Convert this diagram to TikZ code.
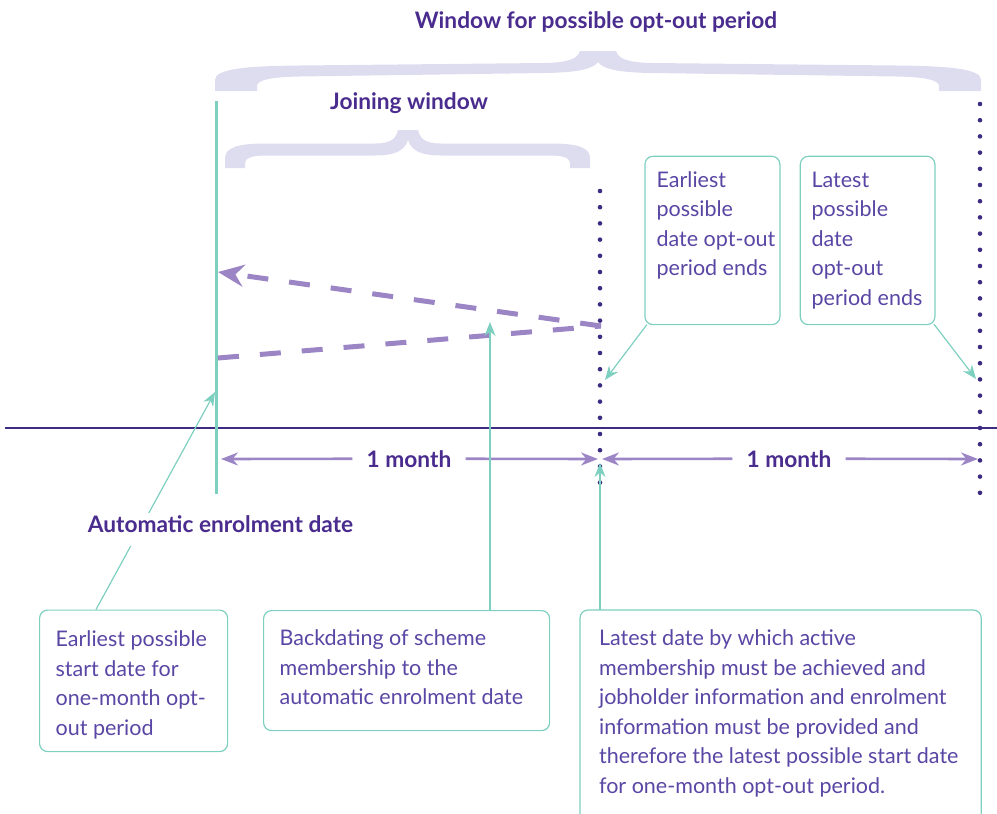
\documentclass[tikz,border=0pt]{standalone}
\usepackage{fontspec}
\setmainfont{Lato}
\usetikzlibrary{arrows.meta,calc}
\definecolor{tealc}{HTML}{7DD0BF}
\definecolor{purp}{HTML}{4A2C8E}
\definecolor{bodyp}{HTML}{5A46A4}
\definecolor{lav}{HTML}{DEDCEF}
\definecolor{dashp}{HTML}{9B85C5}
\definecolor{axisp}{HTML}{3E2C82}
\newcommand{\bodyf}{\fontsize{21.5}{29.5}\selectfont}
\newcommand{\titlef}{\fontsize{22.7}{26}\selectfont\bfseries}
\newcommand{\bxtext}[4]{\parbox[c][#2][t]{#1}{\vspace*{#3}\strut #4}}
\begin{document}
\begin{tikzpicture}[x=1pt,y=-1pt,
  tealline/.style={draw=tealc,line width=3pt},
  tarrow/.style={draw=tealc,line width=1.2pt,-{Stealth[length=14pt,width=11pt]}},
  marrow/.style={draw=dashp,line width=2.6pt,-{Stealth[length=17pt,width=13pt]}},
  dotline/.style={draw=axisp,line width=4.6pt,line cap=round,dash pattern=on 0pt off 16.2pt},
  dashline/.style={draw=dashp,line width=5pt,dash pattern=on 21pt off 21pt},
  dasharrow/.style={dashline,-{Stealth[length=26pt,width=22pt]}},
  boxline/.style={draw=tealc,line width=1.2pt,rounded corners=8pt},
  infobox/.style={boxline,inner ysep=0pt,anchor=north west,text=bodyp,font=\bodyf,align=left},
  titletxt/.style={text=purp,font=\titlef,inner sep=0pt,anchor=base},
  monthlbl/.style={text=purp,font=\titlef,fill=white,inner xsep=14pt,inner ysep=3pt,anchor=base},
  bracefill/.style={fill=lav,draw=none}]
\useasboundingbox (0,0) rectangle (997,814);

% braces
\fill[bracefill] (215,91) -- (215,80) .. controls (215,69) and (245,66) .. (300,65.5) -- (545,63) .. controls (570,62.5) and (578,58) .. (580,51) -- (616,51) .. controls (618,58) and (626,62.5) .. (651,63) -- (896,65.5) .. controls (951,66) and (981,69) .. (981,80) -- (981,91) -- (939,91) -- (939,86) .. controls (939,80) and (925,77) .. (896,76.5) -- (651,73) .. controls (615,72.5) and (602,68) .. (598,62) .. controls (594,68) and (581,72.5) .. (545,73) -- (300,76.5) .. controls (271,77) and (257,80) .. (257,86) -- (257,91) -- cycle;
\fill[bracefill] (225,168) -- (225,158) .. controls (225,147) and (240,143.5) .. (265,143.5) -- (375,143.5) .. controls (392,143.5) and (396,138) .. (398,130) -- (418,130) .. controls (420,138) and (424,143.5) .. (441,143.5) -- (551,143.5) .. controls (576,143.5) and (590,147) .. (590,158) -- (590,168) -- (570,168) -- (570,163) .. controls (570,158) and (563,155.5) .. (551,155.5) -- (441,155.5) .. controls (420,155.5) and (411,150) .. (408,140) .. controls (405,150) and (396,155.5) .. (375,155.5) -- (265,155.5) .. controls (253,155.5) and (245,158) .. (245,163) -- (245,168) -- cycle;

% titles
\node[titletxt] (wtitle) at (596,28) {Window for possible opt-out period};
\node[titletxt] (jtitle) at (409,109) {Joining window};

% coordinates
\coordinate (axL) at (5,428);
\coordinate (axR) at (997,428);
\coordinate (aeTop) at (216,101);
\coordinate (aeBot) at (216,494);
\coordinate (d1Top) at (600,191);
\coordinate (d1Bot) at (600,494);
\coordinate (d2Top) at (980,104);
\coordinate (d2Bot) at (980,494);
\coordinate (dMeet) at (601,326);
\coordinate (dUp) at (218,272);
\coordinate (dLow) at (218,358);
\coordinate (m1L) at (221,459);
\coordinate (m1R) at (598,459);
\coordinate (m2L) at (602,459);
\coordinate (m2R) at (978,459);
\coordinate (t1) at (215,392);
\coordinate (t2) at (490,322);
\coordinate (t3) at (600,463);
\coordinate (tE) at (605,380);
\coordinate (tL) at (976,379);

% axis and markers
\draw[draw=axisp,line width=1.4pt] (axL) -- (axR);
\draw[tealline] (aeTop) -- (aeBot);
\draw[dotline] (d1Top) -- (d1Bot);
\draw[dotline] (d2Top) -- (d2Bot);

% dashed backdating lines
\draw[dashline] (dLow) -- (dMeet);
\draw[dasharrow] (dMeet) -- (dUp);

% 1 month arrows
\node[monthlbl] (mon1) at (409,467) {1 month};
\node[monthlbl] (mon2) at (789,467) {1 month};
\draw[marrow] (mon1) -- (m1L);
\draw[marrow] (mon1) -- (m1R);
\draw[marrow] (mon2) -- (m2L);
\draw[marrow] (mon2) -- (m2R);

% boxes
\node[infobox,inner xsep=16pt] (b1) at (39,609.5) {\bxtext{156pt}{141.5pt}{15.8pt}{\mbox{Earliest possible}\\\mbox{start date for}\\\mbox{one-month opt-}\\\mbox{out period}}};
\node[infobox,inner xsep=16pt] (b2) at (263,610) {\bxtext{254pt}{120pt}{14.4pt}{\mbox{Backdating of scheme}\\\mbox{membership to the}\\\mbox{automatic enrolment date}}};
\node[infobox,draw=none,inner xsep=18.5pt] (b3) at (580,610) {\bxtext{363pt}{204pt}{14.4pt}{\mbox{Latest date by which active}\\\mbox{membership must be achieved and}\\\mbox{jobholder information and enrolment}\\\mbox{information must be provided and}\\\mbox{therefore the latest possible start date}\\\mbox{for one-month opt-out period.}}};
\draw[boxline] (b3.south west) |- (b3.north east) -- (b3.south east);
\node[infobox,inner xsep=11.7pt] (bE) at (644.3,155.7) {\bxtext{111.6pt}{168.3pt}{10.4pt}{\mbox{Earliest}\\\mbox{possible}\\\mbox{date opt-out}\\\mbox{period ends}}};
\node[infobox,inner xsep=11.3pt] (bL) at (799.7,155.7) {\bxtext{112pt}{168.3pt}{10.4pt}{\mbox{Latest}\\\mbox{possible}\\\mbox{date}\\\mbox{opt-out}\\\mbox{period ends}}};

% teal pointers
\draw[tarrow] ($(b1.north west)+(57,0)$) -- (t1);
\draw[tarrow] ($(b2.north west)+(227,0)$) -- (t2);
\draw[tarrow] ($(b3.north west)+(20,0)$) -- (t3);
\draw[tarrow] ($(bE.south west)+(2.5,-0.5)$) -- (tE);
\draw[tarrow] ($(bL.south east)+(-1.5,-1)$) -- (tL);

% automatic enrolment label (covers pointer)
\node[titletxt,fill=white,inner xsep=3pt,inner ysep=3pt,text height=16pt,text depth=11pt] (aelbl) at (220.5,532) {Automatic enrolment date};
\end{tikzpicture}
\end{document}
